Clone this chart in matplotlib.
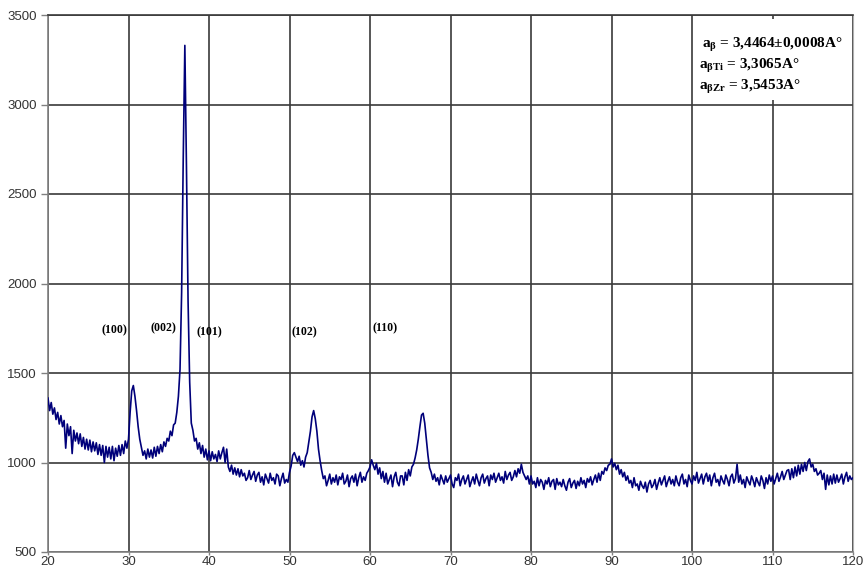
import numpy as np
import matplotlib
matplotlib.use('Agg')
import matplotlib.pyplot as plt

# scan: 20..120 deg 2theta, 0.2 deg step
two_theta = np.round(np.linspace(20, 120, 501), 1)

intensity = [
    # 20.0 - 21.8
    1360, 1290, 1335, 1270, 1305, 1240, 1280, 1215, 1262, 1200,
    # 22.0 - 23.8
    1235, 1080, 1215, 1150, 1200, 1050, 1180, 1120, 1165, 1105,
    # 24.0
    1160, 1090, 1140, 1075, 1130, 1070, 1125, 1060, 1115, 1065,
    # 26.0
    1110, 1045, 1100, 1040, 1095, 1000, 1090, 1030, 1085, 1020,
    # 28.0
    1090, 1010, 1080, 1035, 1095, 1040, 1100, 1050, 1120, 1080,
    # 30.0  (100)
    1130, 1280, 1400, 1430, 1370, 1290, 1200, 1130, 1085, 1040,
    # 32.0
    1065, 1020, 1075, 1030, 1070, 1025, 1085, 1035, 1090, 1050,
    # 34.0
    1100, 1060, 1115, 1090, 1135, 1120, 1175, 1150, 1210, 1220,
    # 36.0  (002)
    1280, 1370, 1520, 1950, 2700, 3330, 2650, 1900, 1450, 1220,
    # 38.0
    1180, 1120, 1135, 1075, 1110, 1050, 1095, 1030, 1075, 1015,
    # 40.0
    1065, 1010, 1060, 1020, 1045, 1005, 1065, 1020, 1055, 1085,
    # 42.0
    1000, 1075, 975, 950, 985, 935, 970, 930, 965, 920,
    # 44.0
    960, 925, 940, 900, 915, 955, 905, 930, 950, 895,
    # 46.0
    930, 945, 890, 920, 875, 935, 910, 885, 940, 900,
    # 48.0
    915, 880, 935, 925, 870, 910, 940, 885, 905, 890,
    # 50.0
    945, 980, 1040, 1055, 1030, 1005, 1035, 985, 1010, 975,
    # 52.0  (102)
    1030, 1055, 1115, 1175, 1255, 1290, 1245, 1175, 1075, 1010,
    # 54.0
    955, 910, 925, 870, 900, 935, 880, 915, 890, 930,
    # 56.0
    875, 920, 905, 940, 880, 895, 930, 865, 910, 925,
    # 58.0
    890, 935, 870, 915, 945, 890, 920, 900, 940, 955,
    # 60.0
    975, 1015, 985, 960, 995, 935, 970, 910, 950, 890,
    # 62.0
    940, 880, 905, 930, 865, 920, 945, 890, 870, 925,
    # 64.0
    925, 875, 945, 900, 960, 925, 975, 990, 1025, 1070,
    # 66.0  (110)
    1130, 1200, 1265, 1275, 1220, 1130, 1040, 970, 945, 905,
    # 68.0
    935, 895, 915, 875, 930, 905, 880, 925, 890, 910,
    # 70.0
    930, 880, 860, 915, 900, 935, 870, 905, 925, 880,
    # 72.0
    905, 930, 865, 895, 920, 880, 935, 900, 870, 915,
    # 74.0
    935, 885, 910, 925, 870, 930, 905, 940, 890, 915,
    # 76.0
    940, 900, 920, 885, 950, 905, 930, 945, 900, 920,
    # 78.0
    955, 920, 965, 940, 990, 945, 925, 905, 925, 880,
    # 80.0
    925, 880, 895, 860, 915, 870, 905, 890, 850, 900,
    # 82.0
    880, 915, 865, 895, 905, 850, 910, 875, 890, 865,
    # 84.0
    905, 870, 845, 890, 910, 860, 885, 900, 855, 895,
    # 86.0
    870, 915, 880, 900, 860, 910, 890, 920, 875, 905,
    # 88.0
    930, 890, 940, 900, 950, 935, 970, 955, 985, 990,
    # 90.0
    1020, 975, 995, 960, 985, 935, 960, 920, 945, 900,
    # 92.0
    925, 885, 900, 860, 915, 870, 880, 845, 895, 870,
    # 94.0
    855, 890, 835, 880, 900, 860, 875, 905, 850, 885,
    # 96.0
    915, 875, 900, 925, 865, 895, 920, 880, 905, 870,
    # 98.0
    925, 890, 870, 915, 935, 880, 905, 865, 930, 900,
    # 100.0
    880, 925, 900, 945, 885, 910, 935, 880, 920, 940,
    # 102.0
    895, 930, 870, 915, 940, 890, 905, 870, 925, 900,
    # 104.0
    880, 930, 905, 870, 920, 935, 885, 910, 990, 890,
    # 106.0
    930, 880, 905, 860, 920, 895, 875, 925, 900, 865,
    # 108.0
    915, 890, 870, 925, 900, 855, 915, 880, 930, 895,
    # 110.0
    925, 880, 910, 940, 895, 920, 950, 905, 930, 955,
    # 112.0
    960, 905, 965, 915, 975, 925, 985, 935, 990, 950,
    # 114.0
    1000, 955, 1005, 1020, 975, 990, 950, 965, 930, 940,
    # 116.0
    955, 905, 940, 850, 930, 875, 925, 880, 935, 885,
    # 118.0
    930, 890, 910, 935, 880, 920, 945, 895, 925, 905,
    # 120.0
    915,
]

peak_labels = ['(100)', '(002)', '(101)', '(102)', '(110)']
peak_label_x = [28.3, 34.3, 40.1, 51.9, 61.9]
peak_label_y = [1740, 1750, 1730, 1730, 1750]

lattice_lines = [
    'a$_{β}$ = 3,4464±0,0008A°',
    'a$_{βTi}$ = 3,3065A°',
    'a$_{βZr}$ = 3,5453A°',
]
lattice_x = [101.3, 100.9, 100.9]
lattice_y = [3335, 3215, 3098]

plt.rcParams['mathtext.fontset'] = 'custom'
plt.rcParams['mathtext.rm'] = 'Liberation Serif:bold'
plt.rcParams['mathtext.bf'] = 'Liberation Serif:bold'
plt.rcParams['mathtext.it'] = 'Liberation Serif:bold'
plt.rcParams['mathtext.default'] = 'bf'

fig = plt.figure(figsize=(8.65, 5.73), dpi=100)
ax = fig.add_axes([48 / 865, 21 / 573, 805 / 865, 537 / 573])

ax.plot(two_theta, intensity, color='#00007a', linewidth=1.2, zorder=3)

ax.set_xlim(20, 120)
ax.set_ylim(500, 3500)
ax.set_xticks(range(20, 121, 10))
ax.set_yticks(range(500, 3501, 500))
ax.grid(True, color='#3a3a3a', linewidth=1.2, zorder=1)
ax.set_axisbelow(True)

for side in ['left', 'bottom']:
    ax.spines[side].set_color('#808080')
    ax.spines[side].set_linewidth(1.2)
ax.spines['right'].set_color('#b0b0b0')
ax.spines['top'].set_color('#3a3a3a')
ax.spines['top'].set_linewidth(1.2)

ax.tick_params(axis='both', colors='#808080', labelcolor='#333333',
               labelsize=9.5, width=1.0)
ax.tick_params(axis='y', length=5, pad=3)
ax.tick_params(axis='x', length=2, pad=1)
for lbl in ax.get_xticklabels() + ax.get_yticklabels():
    lbl.set_family('Liberation Sans')

# peak indices
for lbl, px, py in zip(peak_labels, peak_label_x, peak_label_y):
    ax.text(px, py, lbl, ha='center', va='center', fontsize=8.5,
            family='Liberation Serif', fontweight='bold', zorder=4)

# lattice parameter box (white, covers the grid)
ax.add_patch(plt.Rectangle((100.2, 3025), 19.6, 450, facecolor='white',
                           edgecolor='none', zorder=2))
for txt, tx, ty in zip(lattice_lines, lattice_x, lattice_y):
    ax.text(tx, ty, txt, fontsize=11, family='Liberation Serif',
            fontweight='bold', va='center', ha='left', zorder=4)

plt.savefig('out.png', dpi=100)
